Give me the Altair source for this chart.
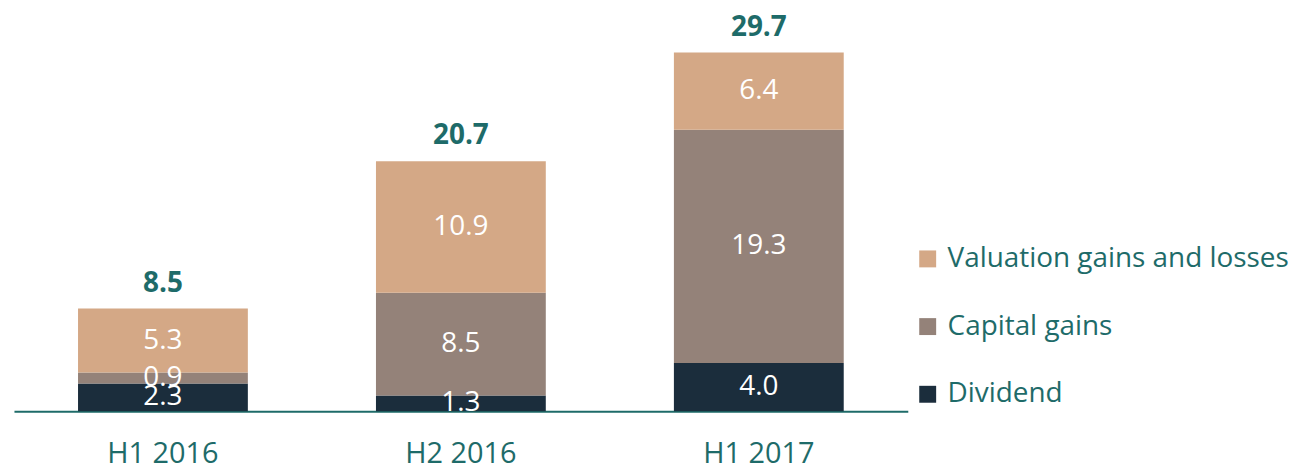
import altair as alt
import pandas as pd

periods = ["H1 2016", "H2 2016", "H1 2017"]
dividend = [2.3, 1.3, 4.0]
capital_gains = [0.9, 8.5, 19.3]
valuation = [5.3, 10.9, 6.4]
totals = [8.5, 20.7, 29.7]
series_names = ["Valuation gains and losses", "Capital gains", "Dividend"]
series_colors = ["#D4A886", "#948279", "#1B2D3C"]

stack_order = [("Dividend", dividend), ("Capital gains", capital_gains),
               ("Valuation gains and losses", valuation)]
rows = []
for i, p in enumerate(periods):
    base = 0.0
    for order, (name, vals) in enumerate(stack_order):
        v = vals[i]
        rows.append(dict(period=p, series=name, value=v, y0=base, y1=base + v,
                         mid=base + v / 2, order=order))
        base += v
df = pd.DataFrame(rows)
tot = pd.DataFrame({"period": periods, "total": totals})

TEAL = "#1E6B69"
FONT = "Open Sans"

x = alt.X("period:N", sort=periods,
          scale=alt.Scale(paddingInner=0.43, paddingOuter=0.215),
          axis=alt.Axis(title=None, labelAngle=0, ticks=False, domainColor=TEAL,
                        domainWidth=2, labelColor=TEAL, labelFontSize=29,
                        labelFont=FONT, labelPadding=29))
yscale = alt.Scale(domain=[0, 33.14], nice=False, zero=True)

bars = alt.Chart(df).mark_bar().encode(
    x=x,
    y=alt.Y("y0:Q", scale=yscale, axis=None),
    y2="y1:Q",
    color=alt.Color("series:N",
                    scale=alt.Scale(domain=series_names, range=series_colors),
                    legend=alt.Legend(title=None, orient="none", legendX=904, legendY=235,
                                      symbolType="square", symbolSize=289,
                                      symbolStrokeWidth=0, labelFontSize=28,
                                      labelColor=TEAL, labelFont=FONT, labelLimit=500,
                                      rowPadding=40, labelOffset=6)),
)

seg_labels = alt.Chart(df).mark_text(color="white", fontSize=28, font=FONT,
                                     baseline="middle").encode(
    x=alt.X("period:N", sort=periods),
    y=alt.Y("mid:Q", scale=yscale),
    text=alt.Text("value:Q", format=".1f"),
)

total_labels = alt.Chart(tot).mark_text(color=TEAL, fontSize=28, font=FONT,
                                        fontWeight="bold", baseline="alphabetic",
                                        dy=-17).encode(
    x=alt.X("period:N", sort=periods),
    y=alt.Y("total:Q", scale=yscale),
    text=alt.Text("total:Q", format=".1f"),
)

chart = alt.layer(bars, seg_labels, total_labels).properties(
    width=898, height=402,
    padding={"left": 6, "top": 2, "right": 383, "bottom": 58},
    autosize="none",
).configure_view(stroke=None)

chart.save("out.html", embed_options={"renderer": "svg", "actions": False})
